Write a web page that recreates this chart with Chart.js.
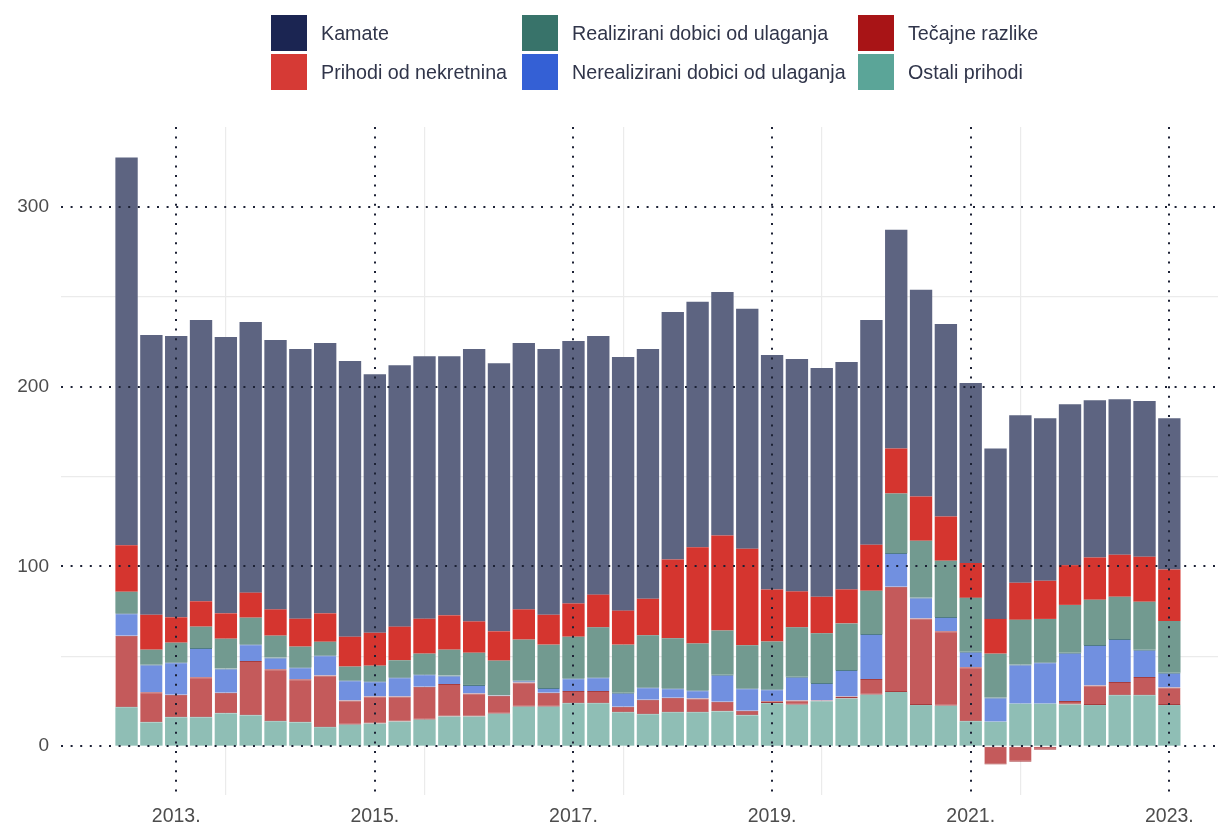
<!DOCTYPE html>
<html lang="hr">
<head>
<meta charset="UTF-8">
<title>Prihodi od ulaganja</title>
<script src="https://cdn.jsdelivr.net/npm/chart.js@4.4.1/dist/chart.umd.min.js"></script>
<style>
  html, body { margin: 0; padding: 0; background: #fff; }
  body { width: 1218px; height: 825px; overflow: hidden; font-family: "Liberation Sans", Arial, sans-serif; }
  .wrap { position: relative; width: 1218px; height: 825px; }
  .legend { position: absolute; left: 0; top: 0; width: 100%; height: 100px; }
  .item { position: absolute; display: flex; align-items: center; height: 36px; font-size: 19.7px; color: #30354a; white-space: nowrap; }
  .item .sw { width: 36px; height: 36px; margin-right: 14px; display: inline-block; }
</style>
</head>
<body>
<div class="wrap">
  <canvas id="chart"></canvas>
  <div class="legend" id="legend"></div>
</div>

<script>
// quarter ends (year-month)
const periods = [
  '2012-06', '2012-09', '2012-12',
  '2013-03', '2013-06', '2013-09', '2013-12',
  '2014-03', '2014-06', '2014-09', '2014-12',
  '2015-03', '2015-06', '2015-09', '2015-12',
  '2016-03', '2016-06', '2016-09', '2016-12',
  '2017-03', '2017-06', '2017-09', '2017-12',
  '2018-03', '2018-06', '2018-09', '2018-12',
  '2019-03', '2019-06', '2019-09', '2019-12',
  '2020-03', '2020-06', '2020-09', '2020-12',
  '2021-03', '2021-06', '2021-09', '2021-12',
  '2022-03', '2022-06', '2022-09', '2022-12'
];

const ostali = [21.7, 13.3, 16.1, 16.1, 18.3, 17.2, 13.9, 13.3, 10.6, 12.0,
  12.6, 13.7, 14.8, 16.5, 16.5, 18.1, 22.0, 22.0, 23.9, 23.9,
  18.9, 17.8, 18.9, 18.9, 19.4, 17.2, 23.9, 23.1, 25.0, 26.5,
  28.7, 30.1, 22.9, 22.5, 13.9, 13.6, 23.6, 23.6, 23.2, 22.9,
  28.4, 28.4, 22.9];
const tecajne = [39.8, 16.7, 12.6, 22.2, 11.5, 30.2, 28.9, 23.9, 28.8, 13.4,
  15.0, 13.9, 18.3, 18.1, 12.9, 10.0, 13.4, 7.8, 6.8, 6.8,
  3.1, 8.1, 8.1, 7.6, 5.4, 2.6, 1.1, 2.3, 0.4, 1.1,
  8.7, 58.6, 48.1, 41.4, 30.0, -10.2, -8.6, -1.9, 1.9, 10.9,
  7.3, 10.1, 9.8];
const nerealizirani = [12.4, 15.4, 18.0, 16.3, 13.5, 9.3, 6.6, 6.7, 11.2, 11.3,
  8.5, 10.7, 6.9, 4.8, 4.7, 0.3, 1.1, 2.6, 7.1, 7.6,
  7.8, 6.9, 5.2, 4.6, 15.0, 12.4, 6.7, 13.3, 9.8, 14.8,
  25.0, 18.7, 11.7, 8.0, 8.7, 13.5, 21.8, 23.1, 26.9, 22.5,
  24.0, 15.2, 8.2];
const realizirani = [12.0, 8.3, 10.9, 11.9, 16.5, 14.8, 12.1, 11.5, 7.5, 7.6,
  8.7, 9.5, 11.5, 14.3, 17.9, 19.2, 22.8, 24.1, 23.1, 27.8,
  26.7, 28.9, 27.8, 26.1, 24.6, 23.9, 26.6, 27.4, 27.6, 25.9,
  24.1, 33.1, 31.6, 31.3, 29.9, 24.4, 24.9, 24.1, 26.6, 25.1,
  23.4, 26.6, 28.8];
const nekretnine = [25.8, 19.4, 14.1, 14.1, 14.1, 13.9, 14.6, 15.5, 15.8, 16.6,
  18.3, 18.7, 19.4, 19.1, 17.4, 16.3, 16.8, 16.6, 18.5, 18.2,
  18.9, 20.3, 43.9, 53.4, 52.8, 53.7, 28.9, 20.0, 20.3, 18.9,
  25.5, 25.1, 24.5, 24.5, 19.4, 19.3, 20.6, 21.2, 22.1, 23.6,
  23.4, 25.1, 28.6];
const kamate = [215.7, 155.6, 156.4, 156.4, 153.7, 150.5, 149.8, 150.0, 150.3, 153.3,
  143.8, 145.4, 146.0, 144.1, 151.5, 149.1, 148.1, 147.8, 145.9, 143.8,
  141.0, 138.9, 137.6, 136.5, 135.4, 133.4, 130.3, 129.2, 127.2, 126.4,
  125.0, 121.6, 115.0, 107.1, 100.0, 94.8, 93.1, 90.4, 89.5, 87.4,
  86.5, 86.5, 84.1];

const yearTicks = [2013, 2015, 2017, 2019, 2021, 2023];
const valueTicks = [0, 100, 200, 300];

// '2012-06' -> 2012.5 (quarter end as decimal year)
function toYear(p) {
  const [y, m] = p.split('-').map(Number);
  return y + m / 12;
}
const xs = periods.map(toYear);
const pts = arr => arr.map((v, i) => ({ x: xs[i], y: v }));

// stacking order bottom -> top
const series = [
  { label: 'Ostali prihodi', data: ostali, fill: '#8fbeb5', key: '#5ba598' },
  { label: 'Tečajne razlike', data: tecajne, fill: '#c45a5b', key: '#a81416', edge: '#a63c3e' },
  { label: 'Nerealizirani dobici od ulaganja', data: nerealizirani, fill: '#7190e0', key: '#3460d5', edgeTop: '#4f7b86' },
  { label: 'Realizirani dobici od ulaganja', data: realizirani, fill: '#729a90', key: '#38736a' },
  { label: 'Prihodi od nekretnina', data: nekretnine, fill: '#d5352f', key: '#d63a35' },
  { label: 'Kamate', data: kamate, fill: '#5d6481', key: '#1b2552' }
];

// legend: 3 columns, filled column by column
const legendOrder = ['Kamate', 'Prihodi od nekretnina',
  'Realizirani dobici od ulaganja', 'Nerealizirani dobici od ulaganja',
  'Tečajne razlike', 'Ostali prihodi'];
const colX = [271, 522, 858];
const rowY = [15, 54];
const legendEl = document.getElementById('legend');
legendOrder.forEach((name, i) => {
  const s = series.find(d => d.label === name);
  const el = document.createElement('div');
  el.className = 'item';
  el.style.left = colX[Math.floor(i / 2)] + 'px';
  el.style.top = rowY[i % 2] + 'px';
  el.innerHTML = '<span class="sw" style="background:' + s.key + '"></span>' + name;
  legendEl.appendChild(el);
});

// dotted major lines drawn over the bars
const majorLines = {
  id: 'majorLines',
  afterDatasetsDraw(chart) {
    const { ctx, chartArea: a, scales: { x, y } } = chart;
    ctx.save();
    ctx.strokeStyle = '#1c2135';
    ctx.lineWidth = 2;
    ctx.setLineDash([2, 7.6]);
    ctx.beginPath();
    valueTicks.forEach(v => {
      const py = Math.round(y.getPixelForValue(v));
      ctx.moveTo(a.left, py);
      ctx.lineTo(a.right, py);
    });
    yearTicks.forEach(v => {
      const px = Math.round(x.getPixelForValue(v));
      ctx.moveTo(px, a.top);
      ctx.lineTo(px, a.bottom);
    });
    ctx.stroke();
    ctx.restore();
  }
};

Chart.defaults.font.family = '"Liberation Sans", Arial, sans-serif';

new Chart(document.getElementById('chart'), {
  type: 'bar',
  data: {
    datasets: series.map(s => ({
      label: s.label,
      data: pts(s.data),
      backgroundColor: s.fill,
      borderColor: s.edge || s.edgeTop || s.fill,
      borderWidth: s.edge ? { top: 1, bottom: 1, left: 0, right: 0 } : (s.edgeTop ? { top: 1, bottom: 0, left: 0, right: 0 } : 0),
      borderSkipped: false,
      barPercentage: 0.9,
      categoryPercentage: 1
    }))
  },
  options: {
    responsive: true,
    maintainAspectRatio: false,
    animation: false,
    layout: { padding: { top: 127, left: 0, right: 0, bottom: 0 } },
    plugins: {
      legend: { display: false },
      tooltip: { enabled: false }
    },
    scales: {
      x: {
        type: 'linear',
        min: 2011.84,
        max: 2023.49,
        stacked: true,
        offset: false,
        border: { display: false },
        grid: {
          drawTicks: false,
          lineWidth: 1.2,
          color: c => (c.tick && c.tick.value % 2 === 0) ? '#ebebeb' : 'rgba(0,0,0,0)'
        },
        ticks: {
          stepSize: 1,
          includeBounds: false,
          autoSkip: false,
          maxRotation: 0,
          padding: 10,
          color: '#4d4d4d',
          font: { size: 19.5 },
          callback: v => yearTicks.includes(v) ? v + '.' : ''
        },
        afterFit: s => { s.height = 30; }
      },
      y: {
        min: -27.1,
        max: 344.3,
        stacked: true,
        border: { display: false },
        grid: {
          drawTicks: false,
          lineWidth: 1.2,
          color: c => (c.tick && [50, 150, 250].includes(c.tick.value)) ? '#ebebeb' : 'rgba(0,0,0,0)'
        },
        ticks: {
          stepSize: 50,
          includeBounds: false,
          padding: 12,
          color: '#4d4d4d',
          font: { size: 19 },
          callback: v => valueTicks.includes(v) ? String(v) : ''
        },
        afterFit: s => { s.width = 61; }
      }
    }
  },
  plugins: [majorLines]
});
</script>
</body>
</html>
